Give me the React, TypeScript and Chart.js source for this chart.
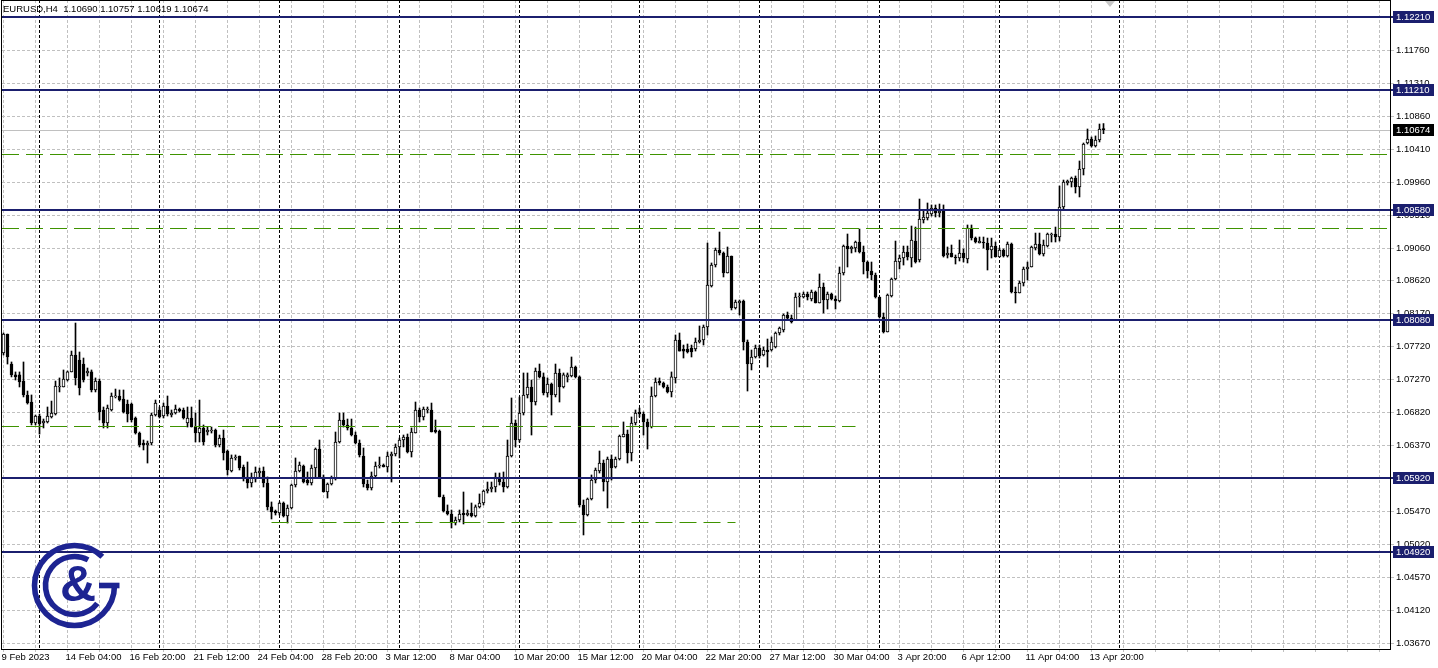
import React, { useEffect, useRef } from 'react';
import { Chart, registerables } from 'chart.js';

Chart.register(...registerables);

const headerText = 'EURUSD,H4  1.10690 1.10757 1.10619 1.10674';

const opens = [
1.07628,1.07887,1.07478,1.07329,1.07329,1.07246,1.07056,1.06960,1.06674,1.06769,
1.06674,1.06688,1.06756,1.06796,1.07165,1.07165,1.07260,1.07370,1.07601,1.07533,
1.07478,1.07356,1.07370,1.07124,1.07246,1.06851,1.06674,1.06851,1.07029,1.07042,
1.07001,1.06932,1.06932,1.06742,1.06537,1.06401,1.06374,1.06401,1.06783,1.06851,
1.06769,1.06905,1.06783,1.06810,1.06864,1.06851,1.06674,1.06742,1.06619,1.06537,
1.06606,1.06551,1.06565,1.06578,1.06374,1.06469,1.06292,1.06019,1.06197,1.06224,
1.06074,1.05938,1.05856,1.05910,1.05992,1.06019,1.05856,1.05529,1.05474,1.05447,
1.05583,1.05406,1.05515,1.05828,1.06019,1.06087,1.05896,1.05856,1.06060,1.06319,
1.05938,1.05733,1.05842,1.05910,1.06415,1.06715,1.06647,1.06606,1.06510,1.06401,
1.06224,1.05842,1.05787,1.05951,1.06087,1.06101,1.06074,1.06224,1.06251,1.06347,
1.06442,1.06483,1.06278,1.06537,1.06851,1.06756,1.06851,1.06851,1.06578,1.06565,
1.05665,1.05474,1.05433,1.05310,1.05351,1.05447,1.05419,1.05447,1.05406,1.05529,
1.05583,1.05746,1.05774,1.05801,1.05938,1.05869,1.05801,1.06224,1.06674,1.06442,
1.06810,1.07056,1.07165,1.06960,1.07383,1.07302,1.07083,1.07206,1.07056,1.07356,
1.07165,1.07302,1.07315,1.07437,1.07302,1.05556,1.05419,1.05638,1.05896,1.06019,
1.06128,1.05869,1.06183,1.06074,1.06183,1.06483,1.06524,1.06265,1.06674,1.06824,
1.06796,1.06688,1.06619,1.07042,1.07246,1.07219,1.07165,1.07097,1.07288,1.07806,
1.07683,1.07683,1.07697,1.07683,1.07778,1.07806,1.07983,1.08542,1.08828,1.09033,
1.08992,1.08719,1.08951,1.08242,1.08310,1.08338,1.07778,1.07478,1.07574,1.07697,
1.07601,1.07669,1.07669,1.07710,1.07901,1.07942,1.08146,1.08105,1.08078,1.08392,
1.08392,1.08433,1.08365,1.08460,1.08310,1.08528,1.08351,1.08433,1.08365,1.08338,
1.08719,1.09087,1.09047,1.09060,1.09142,1.09006,1.08869,1.08746,1.08692,1.08392,
1.08119,1.07915,1.08406,1.08638,1.08869,1.08924,1.09006,1.08924,1.09155,1.08896,
1.09442,1.09469,1.09524,1.09606,1.09537,1.09565,1.08965,1.08992,1.08937,1.08924,
1.08992,1.08910,1.09333,1.09196,1.09128,1.09142,1.09128,1.09033,1.09087,1.08937,
1.09033,1.08951,1.09114,1.08460,1.08447,1.08583,1.08774,1.08801,1.09060,1.09114,
1.08978,1.09087,1.09237,1.09251,1.09210,1.09619,1.09947,1.09960,1.10015,1.09892,
1.10138,1.10492,1.10547,1.10451,1.10533,1.10690
];

const highs = [
1.07901,1.07887,1.07506,1.07370,1.07370,1.07506,1.07110,1.07056,1.06783,1.06796,
1.06728,1.06892,1.06973,1.07246,1.07288,1.07397,1.07383,1.07655,1.08037,1.07642,
1.07560,1.07424,1.07397,1.07288,1.07274,1.06892,1.06919,1.07083,1.07137,1.07124,
1.07124,1.06987,1.06946,1.06756,1.06551,1.06442,1.06428,1.06810,1.06987,1.06892,
1.06946,1.07042,1.06851,1.06919,1.06878,1.06878,1.06892,1.06892,1.06810,1.06987,
1.06647,1.06619,1.06619,1.06592,1.06510,1.06578,1.06306,1.06238,1.06238,1.06224,
1.06101,1.06142,1.05992,1.06074,1.06060,1.06074,1.05938,1.05597,1.05487,1.05597,
1.05597,1.05556,1.05842,1.06197,1.06142,1.06101,1.06006,1.06101,1.06333,1.06442,
1.05965,1.05856,1.05951,1.06551,1.06810,1.06810,1.06728,1.06728,1.06551,1.06442,
1.06333,1.05896,1.06006,1.06142,1.06210,1.06115,1.06278,1.06278,1.06388,1.06469,
1.06510,1.06524,1.06606,1.06960,1.06878,1.06892,1.06892,1.06946,1.06715,1.06578,
1.05692,1.05556,1.05487,1.05392,1.05487,1.05733,1.05487,1.05583,1.05556,1.05706,
1.05760,1.05869,1.05869,1.05992,1.05992,1.06006,1.06442,1.07015,1.06715,1.07029,
1.07356,1.07356,1.07260,1.07424,1.07478,1.07356,1.07288,1.07219,1.07478,1.07410,
1.07356,1.07356,1.07574,1.07451,1.07315,1.05624,1.05651,1.05965,1.06060,1.06292,
1.06169,1.06210,1.06238,1.06210,1.06510,1.06688,1.06578,1.06756,1.06851,1.06878,
1.06824,1.06728,1.07165,1.07288,1.07288,1.07233,1.07192,1.07370,1.07874,1.07901,
1.07737,1.07751,1.07737,1.07833,1.07997,1.08010,1.09128,1.08856,1.09060,1.09278,
1.09006,1.09074,1.08951,1.08351,1.08351,1.08351,1.07806,1.07669,1.07737,1.07737,
1.07710,1.07819,1.07847,1.07915,1.07983,1.08160,1.08187,1.08146,1.08446,1.08446,
1.08460,1.08460,1.08487,1.08474,1.08706,1.08583,1.08460,1.08446,1.08406,1.08801,
1.09101,1.09251,1.09087,1.09155,1.09319,1.09087,1.08883,1.08869,1.08719,1.08392,
1.08174,1.08433,1.08651,1.09155,1.08965,1.09087,1.09087,1.09360,1.09346,1.09728,
1.09578,1.09674,1.09647,1.09647,1.09660,1.09647,1.09074,1.09101,1.08965,1.09169,
1.09047,1.09374,1.09374,1.09210,1.09210,1.09210,1.09196,1.09196,1.09142,1.09060,
1.09047,1.09142,1.09128,1.08528,1.08610,1.08801,1.08869,1.09087,1.09264,1.09264,
1.09169,1.09264,1.09264,1.09346,1.09906,1.09987,1.09987,1.10028,1.10042,1.10247,
1.10492,1.10683,1.10574,1.10588,1.10751,1.10757
];

const lows = [
1.07601,1.07478,1.07302,1.07260,1.07165,1.07029,1.06932,1.06647,1.06647,1.06523,
1.06606,1.06674,1.06742,1.06783,1.07097,1.07165,1.07246,1.07370,1.07192,1.07056,
1.07233,1.07315,1.07097,1.07097,1.06715,1.06606,1.06606,1.06837,1.07015,1.06973,
1.06810,1.06688,1.06688,1.06523,1.06347,1.06306,1.06128,1.06374,1.06769,1.06742,
1.06742,1.06769,1.06756,1.06796,1.06824,1.06728,1.06619,1.06619,1.06415,1.06415,
1.06374,1.06510,1.06537,1.06347,1.06347,1.06169,1.05965,1.06006,1.06169,1.06033,
1.05883,1.05787,1.05801,1.05869,1.05938,1.05801,1.05487,1.05365,1.05419,1.05419,
1.05392,1.05310,1.05501,1.05801,1.06006,1.05856,1.05828,1.05828,1.05938,1.05938,
1.05733,1.05651,1.05828,1.05896,1.06401,1.06619,1.06578,1.06497,1.06388,1.06210,
1.05801,1.05760,1.05760,1.05938,1.06060,1.06074,1.06006,1.05869,1.06224,1.06197,
1.06347,1.06265,1.06210,1.06537,1.06688,1.06715,1.06810,1.06551,1.06537,1.05665,
1.05460,1.05419,1.05242,1.05283,1.05324,1.05297,1.05406,1.05392,1.05392,1.05515,
1.05556,1.05719,1.05733,1.05733,1.05828,1.05733,1.05787,1.06210,1.06347,1.06415,
1.06783,1.07015,1.06510,1.06919,1.07288,1.07056,1.07029,1.06783,1.07029,1.06960,
1.07151,1.07233,1.07302,1.07288,1.05529,1.05147,1.05406,1.05624,1.05856,1.05992,
1.05746,1.05515,1.05896,1.06060,1.06169,1.06483,1.06128,1.06156,1.06647,1.06756,
1.06510,1.06319,1.06606,1.07029,1.07192,1.07151,1.07083,1.07029,1.07219,1.07655,
1.07560,1.07628,1.07574,1.07655,1.07765,1.07737,1.07874,1.08528,1.08801,1.08965,
1.08665,1.08719,1.08215,1.08228,1.08146,1.07669,1.07110,1.07397,1.07560,1.07560,
1.07587,1.07437,1.07655,1.07697,1.07874,1.07915,1.08078,1.08037,1.08078,1.08256,
1.08378,1.08351,1.08338,1.08310,1.08310,1.08174,1.08228,1.08351,1.08228,1.08324,
1.08692,1.08801,1.08992,1.09006,1.08992,1.08706,1.08651,1.08624,1.08378,1.08105,
1.07901,1.07915,1.08392,1.08624,1.08774,1.08828,1.08896,1.08801,1.08855,1.08869,
1.09401,1.09442,1.09496,1.09483,1.09483,1.08937,1.08924,1.08937,1.08842,1.08883,
1.08869,1.08856,1.09169,1.09128,1.09128,1.09060,1.08760,1.08924,1.08937,1.08937,
1.08937,1.08937,1.08447,1.08310,1.08447,1.08542,1.08624,1.08801,1.09033,1.08965,
1.08951,1.09074,1.09142,1.09142,1.09155,1.09578,1.09919,1.09892,1.09810,1.09756,
1.10056,1.10478,1.10437,1.10437,1.10506,1.10619
];

const closes = [
1.07887,1.07574,1.07329,1.07302,1.07233,1.07056,1.06946,1.06674,1.06769,1.06660,
1.06701,1.06769,1.06810,1.07178,1.07178,1.07274,1.07370,1.07601,1.07288,1.07151,
1.07260,1.07383,1.07124,1.07246,1.06824,1.06674,1.06878,1.07042,1.07042,1.06987,
1.06824,1.06796,1.06715,1.06537,1.06374,1.06374,1.06401,1.06783,1.06946,1.06756,
1.06905,1.06796,1.06810,1.06864,1.06837,1.06742,1.06742,1.06619,1.06537,1.06606,
1.06415,1.06578,1.06578,1.06374,1.06469,1.06265,1.06033,1.06197,1.06210,1.06060,
1.05938,1.05856,1.05938,1.06006,1.06019,1.05856,1.05529,1.05460,1.05447,1.05583,
1.05406,1.05515,1.05828,1.06019,1.06101,1.05869,1.05856,1.06060,1.06319,1.05938,
1.05733,1.05842,1.05924,1.06415,1.06715,1.06647,1.06606,1.06510,1.06401,1.06238,
1.05842,1.05787,1.05951,1.06087,1.06101,1.06074,1.06224,1.06251,1.06347,1.06442,
1.06483,1.06278,1.06551,1.06851,1.06756,1.06864,1.06864,1.06551,1.06551,1.05665,
1.05474,1.05433,1.05310,1.05351,1.05433,1.05419,1.05447,1.05406,1.05529,1.05583,
1.05746,1.05774,1.05801,1.05938,1.05869,1.05801,1.06224,1.06674,1.06442,1.06810,
1.07056,1.07165,1.06960,1.07383,1.07302,1.07083,1.07206,1.07056,1.07356,1.07165,
1.07329,1.07329,1.07437,1.07302,1.05556,1.05419,1.05638,1.05896,1.06033,1.06128,
1.05869,1.06183,1.06060,1.06183,1.06497,1.06524,1.06265,1.06674,1.06810,1.06796,
1.06688,1.06619,1.07042,1.07233,1.07219,1.07165,1.07097,1.07302,1.07806,1.07655,
1.07655,1.07642,1.07642,1.07778,1.07806,1.07983,1.08556,1.08828,1.09033,1.08992,
1.08719,1.08951,1.08242,1.08324,1.08338,1.07778,1.07478,1.07574,1.07697,1.07587,
1.07669,1.07642,1.07778,1.07901,1.07969,1.08146,1.08105,1.08051,1.08392,1.08406,
1.08433,1.08392,1.08460,1.08310,1.08528,1.08351,1.08433,1.08365,1.08338,1.08719,
1.09087,1.09047,1.09074,1.09142,1.09006,1.08869,1.08746,1.08692,1.08392,1.08119,
1.07915,1.08419,1.08638,1.08883,1.08924,1.09006,1.08937,1.09169,1.08869,1.09456,
1.09483,1.09537,1.09606,1.09537,1.09565,1.08951,1.08992,1.08937,1.08924,1.08992,
1.08924,1.09333,1.09196,1.09142,1.09155,1.09128,1.09033,1.09087,1.08937,1.09033,
1.08951,1.09114,1.08460,1.08447,1.08583,1.08774,1.08801,1.09074,1.09114,1.08978,
1.09101,1.09251,1.09251,1.09210,1.09619,1.09960,1.09974,1.10015,1.09892,1.10138,
1.10478,1.10547,1.10451,1.10533,1.10683,1.10674
];

const xLabelIndex = [0, 16, 32, 48, 64, 80, 96, 112, 128, 144, 160, 176, 192, 208, 224, 240, 256, 272];
const xLabels = ['9 Feb 2023', '14 Feb 04:00', '16 Feb 20:00', '21 Feb 12:00', '24 Feb 04:00', '28 Feb 20:00',
  '3 Mar 12:00', '8 Mar 04:00', '10 Mar 20:00', '15 Mar 12:00', '20 Mar 04:00', '22 Mar 20:00',
  '27 Mar 12:00', '30 Mar 04:00', '3 Apr 20:00', '6 Apr 12:00', '11 Apr 04:00', '13 Apr 20:00'];
const weekStartIndex = [9, 39, 69, 99, 129, 159, 189, 219, 249, 279];
const yTicks = [1.12210, 1.11760, 1.11310, 1.10860, 1.10410, 1.09960, 1.09510, 1.09060, 1.08620, 1.08170,
  1.07720, 1.07270, 1.06820, 1.06370, 1.05920, 1.05470, 1.05020, 1.04570, 1.04120, 1.03670];
const levelPrices = [1.12210, 1.11210, 1.09580, 1.08080, 1.05920, 1.04920];
const trendPrices = [1.10338, 1.09329, 1.06628, 1.05320];
const trendFrom: (number | null)[] = [null, null, null, 67];
const trendTo: (number | null)[] = [null, null, 213, 183];
const lastPrice = 1.10674;

const X_MIN = -0.375;
const X_MAX = 346.625;
const Y_MIN = 1.03592;
const Y_MAX = 1.12442;

const FONT = '"Liberation Sans", Arial, sans-serif';
const NAVY = '#1b1f6e';
const GREEN = '#3f9300';
const GRID = '#c0c0c0';
const LOGO = '#1d2492';

const overlayPlugin = {
  id: 'mtOverlay',
  beforeDatasetsDraw(chart: any) {
    const { ctx, chartArea: a, scales } = chart;
    const xs = scales.x, ys = scales.y;
    ctx.save();
    ctx.beginPath();
    ctx.rect(a.left, a.top, a.right - a.left, a.bottom - a.top);
    ctx.clip();
    ctx.strokeStyle = '#000';
    ctx.lineWidth = 1;
    ctx.setLineDash([3, 2]);
    for (const w of weekStartIndex) {
      const px = Math.floor(xs.getPixelForValue(w)) + 0.5;
      ctx.beginPath();
      ctx.moveTo(px, a.top);
      ctx.lineTo(px, a.bottom);
      ctx.stroke();
    }
    ctx.setLineDash([]);
    ctx.strokeStyle = '#c0c0c0';
    const py = Math.round(ys.getPixelForValue(lastPrice)) + 0.5;
    ctx.beginPath();
    ctx.moveTo(a.left, py);
    ctx.lineTo(a.right, py);
    ctx.stroke();
    ctx.restore();
  },
  afterDatasetsDraw(chart: any) {
    const { ctx, chartArea: a, scales } = chart;
    const xs = scales.x, ys = scales.y;
    ctx.save();
    ctx.strokeStyle = GREEN;
    ctx.lineWidth = 1;
    ctx.setLineDash([17, 7]);
    trendPrices.forEach((p, k) => {
      const y = Math.round(ys.getPixelForValue(p)) + 0.5;
      const f = trendFrom[k];
      const t = trendTo[k];
      const x1 = f === null ? a.left : xs.getPixelForValue(f);
      const x2 = t === null ? a.right : xs.getPixelForValue(t);
      ctx.beginPath();
      ctx.moveTo(x1, y);
      ctx.lineTo(x2, y);
      ctx.stroke();
    });
    ctx.setLineDash([]);
    ctx.strokeStyle = NAVY;
    ctx.lineWidth = 2;
    levelPrices.forEach((p) => {
      const y = Math.round(ys.getPixelForValue(p));
      ctx.beginPath();
      ctx.moveTo(a.left, y);
      ctx.lineTo(a.right + 3, y);
      ctx.stroke();
    });
    ctx.restore();
  },
  afterDraw(chart: any) {
    const { ctx, chartArea: a, scales } = chart;
    const ys = scales.y;
    ctx.save();
    ctx.strokeStyle = '#000';
    ctx.lineWidth = 1;
    ctx.setLineDash([]);
    ctx.strokeRect(a.left - 0.5, a.top + 0.5, a.right - a.left + 1, a.bottom - a.top);
    ctx.font = `9.5px ${FONT}`;
    ctx.textBaseline = 'middle';
    ctx.textAlign = 'left';
    const box = (p: number, bg: string) => {
      const y = Math.round(ys.getPixelForValue(p));
      ctx.fillStyle = bg;
      ctx.fillRect(a.right + 3, y - 6, 41, 12);
      ctx.fillStyle = '#fff';
      ctx.fillText(p.toFixed(5), a.right + 6, y + 0.5);
    };
    levelPrices.forEach((p) => box(p, NAVY));
    box(lastPrice, '#000');
    ctx.fillStyle = '#000';
    ctx.font = `9.5px ${FONT}`;
    ctx.fillText(headerText, 3, 9);
    ctx.fillStyle = '#c8c8c8';
    ctx.beginPath();
    ctx.moveTo(1105, 1);
    ctx.lineTo(1115, 1);
    ctx.lineTo(1110, 7);
    ctx.closePath();
    ctx.fill();
    // logo
    const cx = 74.5, cy = 585.5;
    ctx.strokeStyle = LOGO;
    ctx.fillStyle = LOGO;
    ctx.lineWidth = 5.6;
    ctx.beginPath();
    ctx.arc(cx, cy, 40, 0, (314 * Math.PI) / 180);
    ctx.stroke();
    ctx.fillRect(99, cy - 2.8, 20.5, 5.6);
    ctx.beginPath();
    ctx.arc(cx, cy, 29, (38 * Math.PI) / 180, (298 * Math.PI) / 180);
    ctx.stroke();
    ctx.font = `bold 50px ${FONT}`;
    ctx.textAlign = 'center';
    ctx.textBaseline = 'middle';
    ctx.fillText('&', 78, 587);
    ctx.restore();
  },
};

const gridIdx: number[] = [];
for (let v = 0; v <= X_MAX; v += 8) gridIdx.push(v);

export default function App() {
  const ref = useRef<HTMLCanvasElement>(null);
  useEffect(() => {
    const idx = opens.map((_, i) => i);
    const bodyData = idx.map((i) => ({ x: i, y: [opens[i], closes[i]] }));
    const wickData = idx.map((i) => ({ x: i, y: [lows[i], highs[i]] }));
    const bodyColors = idx.map((i) => (closes[i] >= opens[i] ? '#ffffff' : '#000000'));
    const chart = new Chart(ref.current as HTMLCanvasElement, {
      type: 'bar',
      data: {
        datasets: [
          {
            data: bodyData as any,
            backgroundColor: bodyColors,
            borderColor: '#000000',
            borderWidth: 1,
            borderSkipped: false,
            barThickness: 3,
            minBarLength: 1,
            grouped: false,
            order: 0,
          } as any,
          {
            data: wickData as any,
            backgroundColor: '#000000',
            borderWidth: 0,
            barThickness: 1,
            grouped: false,
            order: 1,
          } as any,
        ],
      },
      options: {
        animation: false,
        responsive: false,
        events: [],
        layout: { padding: { left: 2, top: 0, right: 0, bottom: 0 } },
        plugins: { legend: { display: false }, tooltip: { enabled: false } },
        scales: {
          x: {
            type: 'linear',
            min: X_MIN,
            max: X_MAX,
            offset: false,
            afterBuildTicks: (s: any) => {
              s.ticks = gridIdx.map((v) => ({ value: v }));
            },
            afterFit: (s: any) => {
              s.height = 19;
              s.paddingLeft = 0;
              s.paddingRight = 0;
            },
            grid: { color: GRID, lineWidth: 1, offset: false, drawTicks: true, tickLength: 3, tickColor: GRID },
            border: { display: false, dash: [3, 2] },
            ticks: {
              autoSkip: false,
              maxRotation: 0,
              minRotation: 0,
              align: 'start',
              labelOffset: -2,
              padding: 0,
              color: '#000',
              font: { family: FONT, size: 9.5 },
              callback: (v: any) => {
                const k = xLabelIndex.indexOf(Number(v));
                return k >= 0 ? xLabels[k] : '';
              },
            },
          } as any,
          y: {
            type: 'linear',
            position: 'right',
            min: Y_MIN,
            max: Y_MAX,
            afterBuildTicks: (s: any) => {
              s.ticks = yTicks.map((v) => ({ value: v }));
            },
            afterFit: (s: any) => {
              s.width = 48;
              s.paddingTop = 0;
              s.paddingBottom = 0;
            },
            grid: { color: GRID, lineWidth: 1, drawTicks: true, tickLength: 4, tickColor: GRID },
            border: { display: false, dash: [3, 2] },
            ticks: {
              padding: 2,
              crossAlign: 'near',
              color: '#000',
              font: { family: FONT, size: 9.5 },
              callback: (v: any) => Number(v).toFixed(5),
            },
          } as any,
        },
      },
      plugins: [overlayPlugin],
    });
    return () => chart.destroy();
  }, []);
  return (
    <div style={{ position: 'fixed', left: 0, top: 0, width: 1438, height: 668, background: '#fff' }}>
      <canvas ref={ref} width={1438} height={668} style={{ display: 'block', width: 1438, height: 668 }} />
    </div>
  );
}
